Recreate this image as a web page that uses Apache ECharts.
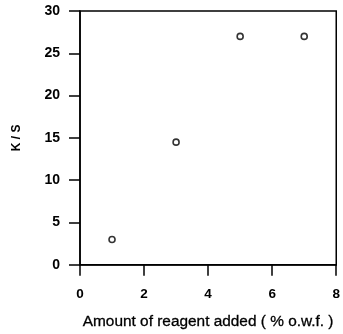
<!DOCTYPE html>
<html><head><meta charset="utf-8">
<script src="https://cdn.jsdelivr.net/npm/echarts@6/dist/echarts.min.js"></script>
<style>html,body{margin:0;padding:0;background:#fff}#c{width:343px;height:334px}</style>
</head><body><div id="c"></div>
<script>
const reagentAmount = [1, 3, 5, 7];
const ksValues = [3.0, 14.5, 27.0, 27.0];
const xTicks = [0, 2, 4, 6, 8];
const yTicks = [0, 5, 10, 15, 20, 25, 30];
const xTitle = 'Amount of reagent added ( % o.w.f. )';
const yTitle = 'K / S';

const chart = echarts.init(document.getElementById('c'), null, {renderer: 'canvas'});
const font = '"Liberation Sans", Arial, sans-serif';
const axisCommon = {
  axisLine: {show: true, onZero: false, lineStyle: {color: '#000', width: 1.5}},
  axisTick: {show: true, inside: false, length: 11, lineStyle: {color: '#000', width: 1.5}},
  splitLine: {show: false},
  nameLocation: 'middle'
};
chart.setOption({
  animation: false,
  backgroundColor: '#fff',
  grid: {left: 80, right: 6, top: 11, bottom: 68, show: true, borderColor: '#000', borderWidth: 1.5},
  xAxis: Object.assign({}, axisCommon, {
    type: 'value', min: xTicks[0], max: xTicks[xTicks.length - 1], interval: 2,
    name: xTitle, nameGap: 49,
    nameTextStyle: {color: '#000', fontFamily: font, fontSize: 15.4, textBorderColor: '#000', textBorderWidth: 0.3},
    axisLabel: {margin: 22, color: '#000', fontFamily: font, fontSize: 13.5, fontWeight: 'bold',
      formatter: v => xTicks.includes(v) ? String(v) : ''}
  }),
  yAxis: Object.assign({}, axisCommon, {
    type: 'value', min: yTicks[0], max: yTicks[yTicks.length - 1], interval: 5,
    name: yTitle, nameGap: 57,
    nameTextStyle: {color: '#000', fontFamily: font, fontSize: 12, fontWeight: 'bold'},
    axisLabel: {margin: 20, color: '#000', fontFamily: font, fontSize: 14, fontWeight: 'bold',
      formatter: v => yTicks.includes(v) ? String(v) : ''}
  }),
  series: [{
    type: 'scatter',
    data: reagentAmount.map((x, i) => [x, ksValues[i]]),
    symbol: 'circle', symbolSize: 6,
    itemStyle: {color: '#fff', borderColor: '#000', borderWidth: 1.6}
  }]
});
</script></body></html>
